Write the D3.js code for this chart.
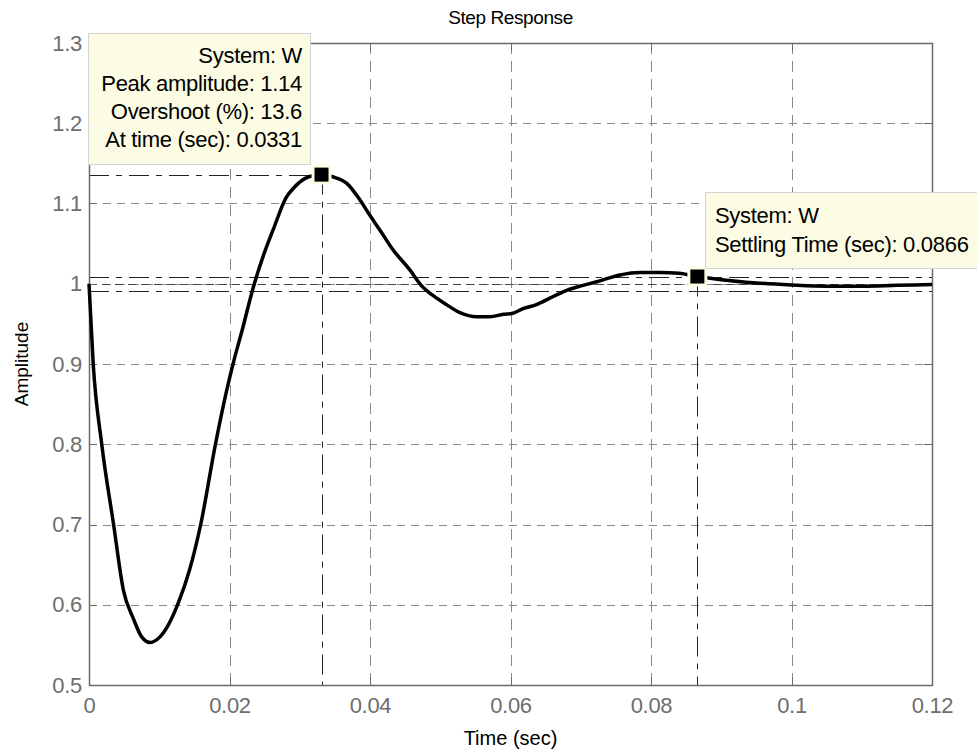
<!DOCTYPE html>
<html>
<head>
<meta charset="utf-8">
<script src="https://cdn.jsdelivr.net/npm/d3@7"></script>
<style>
  body { margin: 0; background: #fff; }
  svg text { font-family: "Liberation Sans", Arial, sans-serif; }
</style>
</head>
<body>
<div id="chart"></div>
<script>
// step response samples
const timeValues = [0, 0.0006, 0.0018, 0.0035, 0.0049, 0.0063, 0.0075, 0.0087, 0.0101, 0.0113,
  0.0127, 0.0143, 0.0159, 0.0180, 0.0196, 0.0205, 0.0218, 0.0234, 0.0251, 0.0262,
  0.0281, 0.0291, 0.0312, 0.0331, 0.0348, 0.0367, 0.0386, 0.0400, 0.0414, 0.0433,
  0.0457, 0.0471, 0.0495, 0.0509, 0.0528, 0.0552, 0.0571, 0.0590, 0.0602, 0.0618,
  0.0637, 0.0656, 0.0675, 0.0699, 0.0723, 0.0756, 0.0784, 0.0813, 0.0840, 0.0866,
  0.0900, 0.0950, 0.1000, 0.1050, 0.1100, 0.1150, 0.1200];
const amplitudeValues = [1.0, 0.9, 0.801, 0.70, 0.618, 0.583, 0.560, 0.553, 0.560, 0.575,
  0.602, 0.643, 0.70, 0.80, 0.867, 0.90, 0.942, 0.996, 1.042, 1.067,
  1.108, 1.119, 1.133, 1.136, 1.133, 1.125, 1.104, 1.085, 1.067, 1.042,
  1.017, 1.0, 0.982, 0.974, 0.964, 0.959, 0.959, 0.962, 0.963, 0.969,
  0.974, 0.982, 0.990, 0.997, 1.0025, 1.011, 1.014, 1.014, 1.013, 1.009,
  1.005, 1.001, 0.9985, 0.997, 0.997, 0.998, 0.999];

const xTicks = [0, 0.02, 0.04, 0.06, 0.08, 0.1, 0.12];
const xTickLabels = ["0", "0.02", "0.04", "0.06", "0.08", "0.1", "0.12"];
const yTicks = [0.5, 0.6, 0.7, 0.8, 0.9, 1.0, 1.1, 1.2, 1.3];
const yTickLabels = ["0.5", "0.6", "0.7", "0.8", "0.9", "1", "1.1", "1.2", "1.3"];

// characteristics
const peakPoint = { t: 0.0331, a: 1.136 };
const settlePoint = { t: 0.0866, a: 1.009 };
const settleBand = [0.991, 1.009];
const steadyValue = 1.0;
const peakLines = ["System: W", "Peak amplitude: 1.14", "Overshoot (%): 13.6", "At time (sec): 0.0331"];
const settleLines = ["System: W", "Settling Time (sec): 0.0866"];

const width = 977, height = 756;
const plotLeft = 89, plotRight = 932, plotTop = 43, plotBottom = 685;

const svg = d3.select('#chart').append('svg')
  .attr('width', width)
  .attr('height', height);

const x = d3.scaleLinear().domain([0, 0.12]).range([plotLeft, plotRight]);
const y = d3.scaleLinear().domain([0.5, 1.3]).range([plotBottom, plotTop]);

// grid
const grid = svg.append('g').attr('stroke', '#8a8a8a').attr('stroke-width', 1);
grid.selectAll('.vg').data(xTicks.slice(1, -1)).join('line')
  .attr('x1', d => Math.round(x(d)) + 0.5).attr('x2', d => Math.round(x(d)) + 0.5)
  .attr('y1', plotTop).attr('y2', plotBottom)
  .attr('stroke-dasharray', '11,7');
grid.selectAll('.hg').data(yTicks.slice(1, -1)).join('line')
  .attr('x1', plotLeft).attr('x2', plotRight)
  .attr('y1', d => Math.round(y(d)) + 0.5).attr('y2', d => Math.round(y(d)) + 0.5)
  .attr('stroke-dasharray', '8,6');

// characteristic lines
const charLine = svg.append('g').attr('stroke', '#222').attr('stroke-width', 1).attr('fill', 'none');
settleBand.forEach(v => {
  charLine.append('line')
    .attr('x1', plotLeft).attr('x2', plotRight)
    .attr('y1', Math.round(y(v)) + 0.5).attr('y2', Math.round(y(v)) + 0.5)
    .attr('stroke-dasharray', '20,7,6,7');
});
charLine.append('line')
  .attr('x1', plotLeft).attr('x2', plotRight)
  .attr('y1', Math.round(y(steadyValue)) + 0.5).attr('y2', Math.round(y(steadyValue)) + 0.5)
  .attr('stroke', '#444')
  .attr('stroke-dasharray', '8,5');
charLine.append('line')
  .attr('x1', plotLeft).attr('x2', x(peakPoint.t))
  .attr('y1', Math.round(y(peakPoint.a)) + 0.5).attr('y2', Math.round(y(peakPoint.a)) + 0.5)
  .attr('stroke-dasharray', '20,7,6,7');
[peakPoint, settlePoint].forEach(p => {
  charLine.append('line')
    .attr('x1', Math.round(x(p.t)) + 0.5).attr('x2', Math.round(x(p.t)) + 0.5)
    .attr('y1', y(p.a)).attr('y2', plotBottom)
    .attr('stroke-dasharray', '20,7,6,7');
});

// axes box and inward ticks
svg.append('rect')
  .attr('x', plotLeft + 0.5).attr('y', plotTop + 0.5)
  .attr('width', plotRight - plotLeft).attr('height', plotBottom - plotTop)
  .attr('fill', 'none').attr('stroke', '#6a6a6a').attr('stroke-width', 1.5);

const ticks = svg.append('g').attr('stroke', '#6a6a6a').attr('stroke-width', 1);
xTicks.forEach(d => {
  const px = Math.round(x(d)) + 0.5;
  ticks.append('line').attr('x1', px).attr('x2', px).attr('y1', plotBottom).attr('y2', plotBottom - 8);
  ticks.append('line').attr('x1', px).attr('x2', px).attr('y1', plotTop).attr('y2', plotTop + 8);
});
yTicks.forEach(d => {
  const py = Math.round(y(d)) + 0.5;
  ticks.append('line').attr('x1', plotLeft).attr('x2', plotLeft + 8).attr('y1', py).attr('y2', py);
  ticks.append('line').attr('x1', plotRight).attr('x2', plotRight - 8).attr('y1', py).attr('y2', py);
});

// tick labels via d3 axes
const xAxis = svg.append('g')
  .attr('transform', `translate(0,${plotBottom})`)
  .call(d3.axisBottom(x).tickValues(xTicks).tickFormat((d, i) => xTickLabels[i]).tickSize(0).tickPadding(12));
const yAxis = svg.append('g')
  .attr('transform', `translate(${plotLeft},0)`)
  .call(d3.axisLeft(y).tickValues(yTicks).tickFormat((d, i) => yTickLabels[i]).tickSize(0).tickPadding(7));
[xAxis, yAxis].forEach(a => {
  a.select('.domain').remove();
  a.selectAll('text')
    .attr('font-size', 22)
    .attr('fill', '#6e6e6e')
    .style('font-family', '"Liberation Sans", Arial, sans-serif')
    .attr('letter-spacing', '-0.3');
});

// response curve
const line = d3.line()
  .x((d, i) => x(timeValues[i]))
  .y(d => y(d))
  .curve(d3.curveMonotoneX);
svg.append('path')
  .datum(amplitudeValues)
  .attr('d', line)
  .attr('fill', 'none')
  .attr('stroke', '#000')
  .attr('stroke-width', 3.5)
  .attr('stroke-linejoin', 'round');

// markers
[peakPoint, settlePoint].forEach(p => {
  svg.append('rect')
    .attr('x', x(p.t) - 10).attr('y', y(p.a) - 10)
    .attr('width', 20).attr('height', 20)
    .attr('fill', '#fdfde3');
  svg.append('rect')
    .attr('x', x(p.t) - 7).attr('y', y(p.a) - 7)
    .attr('width', 14).attr('height', 14)
    .attr('fill', '#000');
});

// data tips
const tip1 = svg.append('g');
tip1.append('rect')
  .attr('x', 88.5).attr('y', 33.5).attr('width', 222).attr('height', 131)
  .attr('fill', '#fcfce4').attr('stroke', '#d4d4d4');
tip1.selectAll('text').data(peakLines).join('text')
  .attr('x', 302).attr('y', (d, i) => 63 + i * 28)
  .attr('text-anchor', 'end')
  .attr('font-size', 22)
  .attr('letter-spacing', '-0.3')
  .attr('fill', '#000')
  .text(d => d);

const tip2 = svg.append('g');
tip2.append('rect')
  .attr('x', 705.5).attr('y', 192.5).attr('width', 280).attr('height', 76)
  .attr('fill', '#fcfce4').attr('stroke', '#d4d4d4');
tip2.selectAll('text').data(settleLines).join('text')
  .attr('x', 715).attr('y', (d, i) => 223 + i * 29)
  .attr('font-size', 22)
  .attr('letter-spacing', '-0.3')
  .attr('fill', '#000')
  .text(d => d);

// titles
svg.append('text')
  .attr('x', (plotLeft + plotRight) / 2).attr('y', 24)
  .attr('text-anchor', 'middle')
  .attr('font-size', 19)
  .attr('letter-spacing', '-0.4')
  .text('Step Response');
svg.append('text')
  .attr('x', (plotLeft + plotRight) / 2).attr('y', 745)
  .attr('text-anchor', 'middle')
  .attr('font-size', 20)
  .text('Time (sec)');
svg.append('text')
  .attr('transform', `translate(28,${(plotTop + plotBottom) / 2}) rotate(-90)`)
  .attr('text-anchor', 'middle')
  .attr('font-size', 19)
  .text('Amplitude');
</script>
</body>
</html>
